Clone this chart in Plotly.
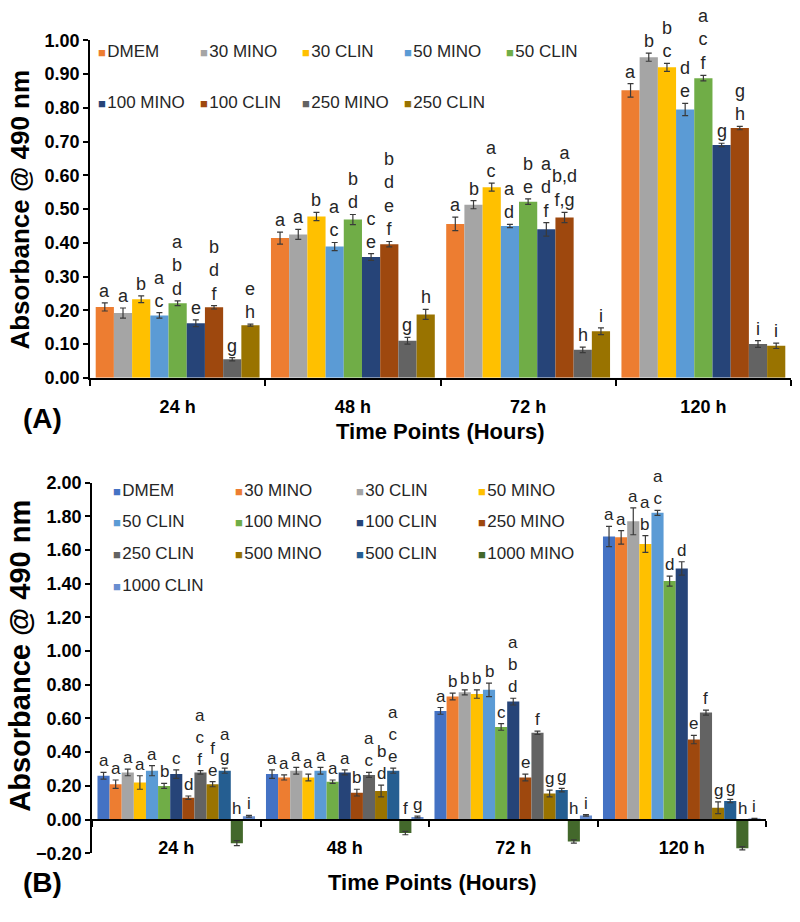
import plotly.graph_objects as go

# ---------------- data ----------------
times = ["24 h", "48 h", "72 h", "120 h"]

# Panel A
a_series = ["DMEM", "30 MINO", "30 CLIN", "50 MINO", "50 CLIN",
            "100 MINO", "100 CLIN", "250 MINO", "250 CLIN"]
a_colors = ["#ED7D31", "#A5A5A5", "#FFC000", "#5B9BD5", "#70AD47",
            "#264478", "#9E480E", "#636363", "#997300"]
a_24 = [0.21, 0.192, 0.233, 0.185, 0.221, 0.162, 0.209, 0.055, 0.156]
a_48 = [0.414, 0.425, 0.478, 0.389, 0.469, 0.358, 0.396, 0.110, 0.188]
a_72 = [0.456, 0.513, 0.565, 0.450, 0.522, 0.440, 0.475, 0.083, 0.138]
a_120 = [0.852, 0.950, 0.920, 0.795, 0.888, 0.690, 0.740, 0.100, 0.095]
a_err_24 = [0.012, 0.015, 0.010, 0.008, 0.007, 0.010, 0.005, 0.005, 0.003]
a_err_48 = [0.018, 0.015, 0.012, 0.012, 0.015, 0.010, 0.008, 0.010, 0.015]
a_err_72 = [0.020, 0.012, 0.012, 0.005, 0.008, 0.020, 0.015, 0.008, 0.010]
a_err_120 = [0.020, 0.012, 0.012, 0.018, 0.008, 0.005, 0.005, 0.010, 0.008]
a_let_24 = ["a", "a", "b", "a<br>c", "a<br>b<br>d", "e", "b<br>d<br>f", "g", "e<br>h"]
a_let_48 = ["a", "a", "b", "a<br>c", "b<br>d", "c<br>e", "b<br>d<br>e<br>f", "g", "h"]
a_let_72 = ["a", "b", "a<br>c", "a<br>d", "b<br>e", "a<br>d<br>f", "a<br>b,d<br>f,g", "h", "i"]
a_let_120 = ["a", "b", "b<br>c", "d<br>e", "a<br>c<br>f", "g", "g<br>h", "i", "i"]

# Panel B
b_series = ["DMEM", "30 MINO", "30 CLIN", "50 MINO", "50 CLIN", "100 MINO",
            "100 CLIN", "250 MINO", "250 CLIN", "500 MINO", "500 CLIN",
            "1000 MINO", "1000 CLIN"]
b_colors = ["#4472C4", "#ED7D31", "#A5A5A5", "#FFC000", "#5B9BD5", "#70AD47",
            "#264478", "#9E480E", "#636363", "#997300", "#255E91", "#43682B",
            "#698ED0"]
b_24 = [0.26, 0.21, 0.28, 0.22, 0.29, 0.20, 0.27, 0.13, 0.28, 0.21, 0.29, -0.14, 0.02]
b_48 = [0.27, 0.25, 0.29, 0.25, 0.29, 0.225, 0.28, 0.16, 0.265, 0.17, 0.29, -0.08, 0.015]
b_72 = [0.645, 0.73, 0.755, 0.745, 0.77, 0.55, 0.70, 0.25, 0.515, 0.155, 0.175, -0.13, 0.025]
b_120 = [1.68, 1.675, 1.77, 1.635, 1.82, 1.415, 1.49, 0.475, 0.635, 0.07, 0.11, -0.17, 0.005]
b_err_24 = [0.02, 0.025, 0.02, 0.04, 0.03, 0.015, 0.025, 0.01, 0.01, 0.015, 0.015, 0.015, 0.005]
b_err_48 = [0.025, 0.015, 0.02, 0.02, 0.02, 0.01, 0.015, 0.02, 0.015, 0.035, 0.015, 0.01, 0.005]
b_err_72 = [0.02, 0.02, 0.015, 0.025, 0.04, 0.02, 0.02, 0.02, 0.01, 0.02, 0.01, 0.01, 0.005]
b_err_120 = [0.06, 0.04, 0.08, 0.05, 0.015, 0.03, 0.04, 0.025, 0.015, 0.035, 0.01, 0.01, 0.003]
b_let_24 = ["a", "a", "a", "a", "a", "b", "c", "d", "a<br>c<br>f", "f<br>e", "a<br>g", "h", "i"]
b_let_48 = ["a", "a", "a", "a", "a", "a", "a", "b", "a<br>c", "b<br>d", "a<br>c<br>e", "f", "g"]
b_let_72 = ["a", "b", "b", "b", "b", "c", "a<br>b<br>d", "e", "f", "g", "g", "h", "i"]
b_let_120 = ["a", "a", "a", "a<br>b", "a<br>c", "d", "d", "e", "f", "g", "g", "h", "i"]

# ---------------- layout constants ----------------
W, H = 800, 922
BARGAP = 0.065
FONT = "Liberation Sans, Arial, sans-serif"


def px(x):
    return x / W


def py(y):
    return (H - y) / H


fig = go.Figure()
annotations = []
xpos = list(range(len(times)))


def add_panel(series, colors, vals_by_time, errs_by_time, lets_by_time,
              xa, ya, let_size):
    n = len(series)
    w = (1 - BARGAP) / n
    for j, name in enumerate(series):
        vals = [v[j] for v in vals_by_time]
        errs = [e[j] for e in errs_by_time]
        fig.add_trace(go.Bar(
            x=xpos, y=vals, name=name, marker_color=colors[j],
            marker_line_width=0,
            error_y=dict(type="data", array=errs, color="#3a3a3a",
                         thickness=1.2, width=3),
            xaxis=xa, yaxis=ya, showlegend=False))
        off = -(1 - BARGAP) / 2 + w * (j + 0.5)
        for i in xpos:
            v = vals[i]
            top = v + errs[i] if v > 0 else 0
            annotations.append(dict(
                x=i + off, y=top, xref=xa, yref=ya, text=lets_by_time[i][j],
                showarrow=False, xanchor="center", yanchor="bottom", yshift=0,
                font=dict(family=FONT, size=let_size, color="#262626")))


add_panel(a_series, a_colors, [a_24, a_48, a_72, a_120],
          [a_err_24, a_err_48, a_err_72, a_err_120],
          [a_let_24, a_let_48, a_let_72, a_let_120], "x", "y", 18)
add_panel(b_series, b_colors, [b_24, b_48, b_72, b_120],
          [b_err_24, b_err_48, b_err_72, b_err_120],
          [b_let_24, b_let_48, b_let_72, b_let_120], "x2", "y2", 17)


# ---------------- custom legends ----------------
def add_legend(series, colors, x0, dx, ys, ncol):
    for k, name in enumerate(series):
        r, c = divmod(k, ncol)
        annotations.append(dict(
            x=px(x0 + dx * c), y=py(ys[r]), xref="paper", yref="paper",
            xanchor="left", yanchor="middle", showarrow=False,
            text=f"<span style='color:{colors[k]};font-size:13px'>\u25A0</span>\u200a{name}",
            font=dict(family=FONT, size=17, color="#262626")))


add_legend(a_series, a_colors, 96, 102, [42, 95], 5)
add_legend(b_series, b_colors, 111, 121.7, [491, 523, 556, 588], 4)


# ---------------- titles ----------------
def title(text, x, y, size, angle=0):
    annotations.append(dict(
        x=px(x), y=py(y), xref="paper", yref="paper", textangle=angle,
        xanchor="center", yanchor="middle", text=f"<b>{text}</b>",
        showarrow=False, font=dict(family=FONT, size=size, color="black")))


title("Absorbance @ 490 nm", 20, 204, 26, -90)
title("Absorbance @ 490 nm", 20, 660, 29, -90)
title("Time Points (Hours)", 440, 431, 22)
title("Time Points (Hours)", 432, 892, 22)
title("(A)", 42, 418, 28)
title("(B)", 42, 892, 28)

boundaries = [i - 0.5 for i in range(len(times) + 1)]
xcommon = dict(range=[-0.5, len(times) - 0.5], tickvals=xpos, ticktext=times,
               ticks="", showline=True, linecolor="black", linewidth=2,
               showgrid=False, zeroline=False, fixedrange=True,
               tickfont=dict(family=FONT, size=18, color="black", weight="bold"),
               minor=dict(tickvals=boundaries, ticks="outside", ticklen=6,
                          tickwidth=1.5, tickcolor="black"),
               ticklabelstandoff=12)
ycommon = dict(ticks="outside", ticklen=5, tickwidth=1.5, tickcolor="black",
               showline=True, linecolor="black", linewidth=1.5,
               showgrid=False, zeroline=False, tickformat=".2f",
               tickfont=dict(family=FONT, size=18, color="black", weight="bold"))

yb_lo, yb_hi = -0.2, 2.0
yb_dom = [py(862), py(483)]
zero_pos = yb_dom[0] + (0 - yb_lo) / (yb_hi - yb_lo) * (yb_dom[1] - yb_dom[0])

fig.update_layout(
    width=W, height=H, margin=dict(l=0, r=0, t=0, b=0),
    paper_bgcolor="white", plot_bgcolor="white",
    barmode="group", bargap=BARGAP, bargroupgap=0,
    showlegend=False,
    xaxis=dict(domain=[px(90), px(791)], anchor="y", **xcommon),
    yaxis=dict(domain=[py(376), py(31)], anchor="x", range=[0, 1.0],
               dtick=0.1, **ycommon),
    xaxis2=dict(domain=[px(92), px(766)], anchor="free", position=zero_pos,
                **xcommon),
    yaxis2=dict(domain=yb_dom, anchor="x2", range=[yb_lo, yb_hi],
                dtick=0.2, **ycommon),
    annotations=annotations,
)

fig.write_html("out.html",
               config={"displayModeBar": False},
               post_script="document.body.style.margin='0';document.body.style.overflow='hidden';")
